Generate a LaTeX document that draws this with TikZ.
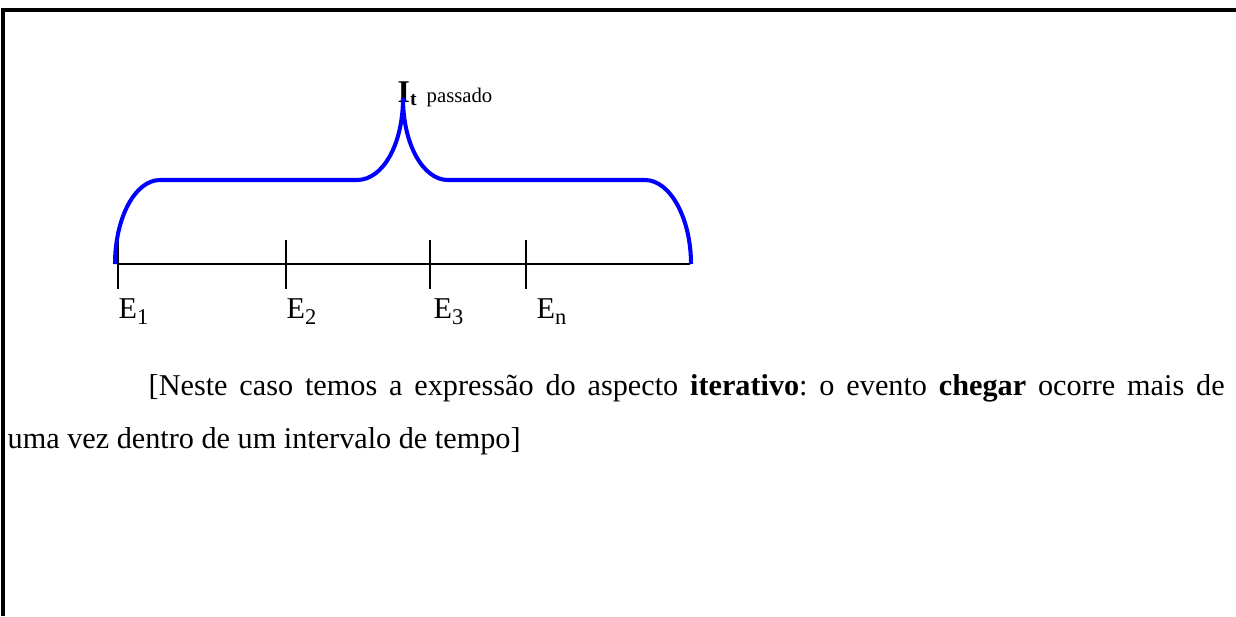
\documentclass[tikz,border=0pt]{standalone}
\usepackage{fontspec}
\setmainfont{Liberation Serif}
\usetikzlibrary{positioning}
\newcommand{\lowsub}[1]{\raisebox{-1.8pt}{\fontsize{6.4}{7}\selectfont #1}}
\begin{document}
\frenchspacing
\begin{tikzpicture}[x=0.1mm, y=-0.1mm,
    brace/.style={blue, line width=1.15pt},
    axis/.style={black, line width=0.6pt},
    lbl/.style={anchor=base west, inner sep=0pt, font=\fontsize{8.6}{10}\selectfont}]
    \useasboundingbox (0,0) rectangle (1236,616);
    % Frame (top and left edges)
    \draw[line width=1.1pt] (3,616) -- (3,10) -- (1236,10);

    % Time axis
    \coordinate (a0) at (118,264);
    \coordinate (a1) at (690,264);
    \draw[axis] (a0) -- (a1);

    % Events on the axis
    \foreach \x/\n/\dx in {118/1/0, 286/2/0, 430/3/3, 526/n/10} {
            \draw[axis] (\x,240) -- (\x,289);
            \node[lbl] (e\n) at (\x+\dx,318) {E\lowsub{\n}};
        }

    % Interval label
    \node[anchor=base west, inner sep=0pt, font=\fontsize{9}{10}\selectfont\bfseries] (it) at (397,102) {I\raisebox{-1pt}{\fontsize{5.6}{6}\selectfont t}};
    \node[anchor=base west, inner sep=0pt, font=\fontsize{5.9}{7}\selectfont] (past) at (426,102) {passado};

    % Brace over the interval
    \draw[brace] (115,264) .. controls (115,218) and (135,180) .. (160,180) -- (357,180)
        .. controls (383,180) and (403,144) .. (403,98)
        .. controls (403,144) and (423,180) .. (448,180) -- (645,180)
        .. controls (670,180) and (691,218) .. (691,264);

    % Comment text
    \node[lbl] (txt1) at (148,395) {\makebox[107.6mm][s]{[Neste caso temos a expressão do aspecto \textbf{iterativo}: o evento \textbf{chegar} ocorre mais de}};
    \node[lbl] (txt2) at (7,448) {uma vez dentro de um intervalo de tempo]};
\end{tikzpicture}
\end{document}
